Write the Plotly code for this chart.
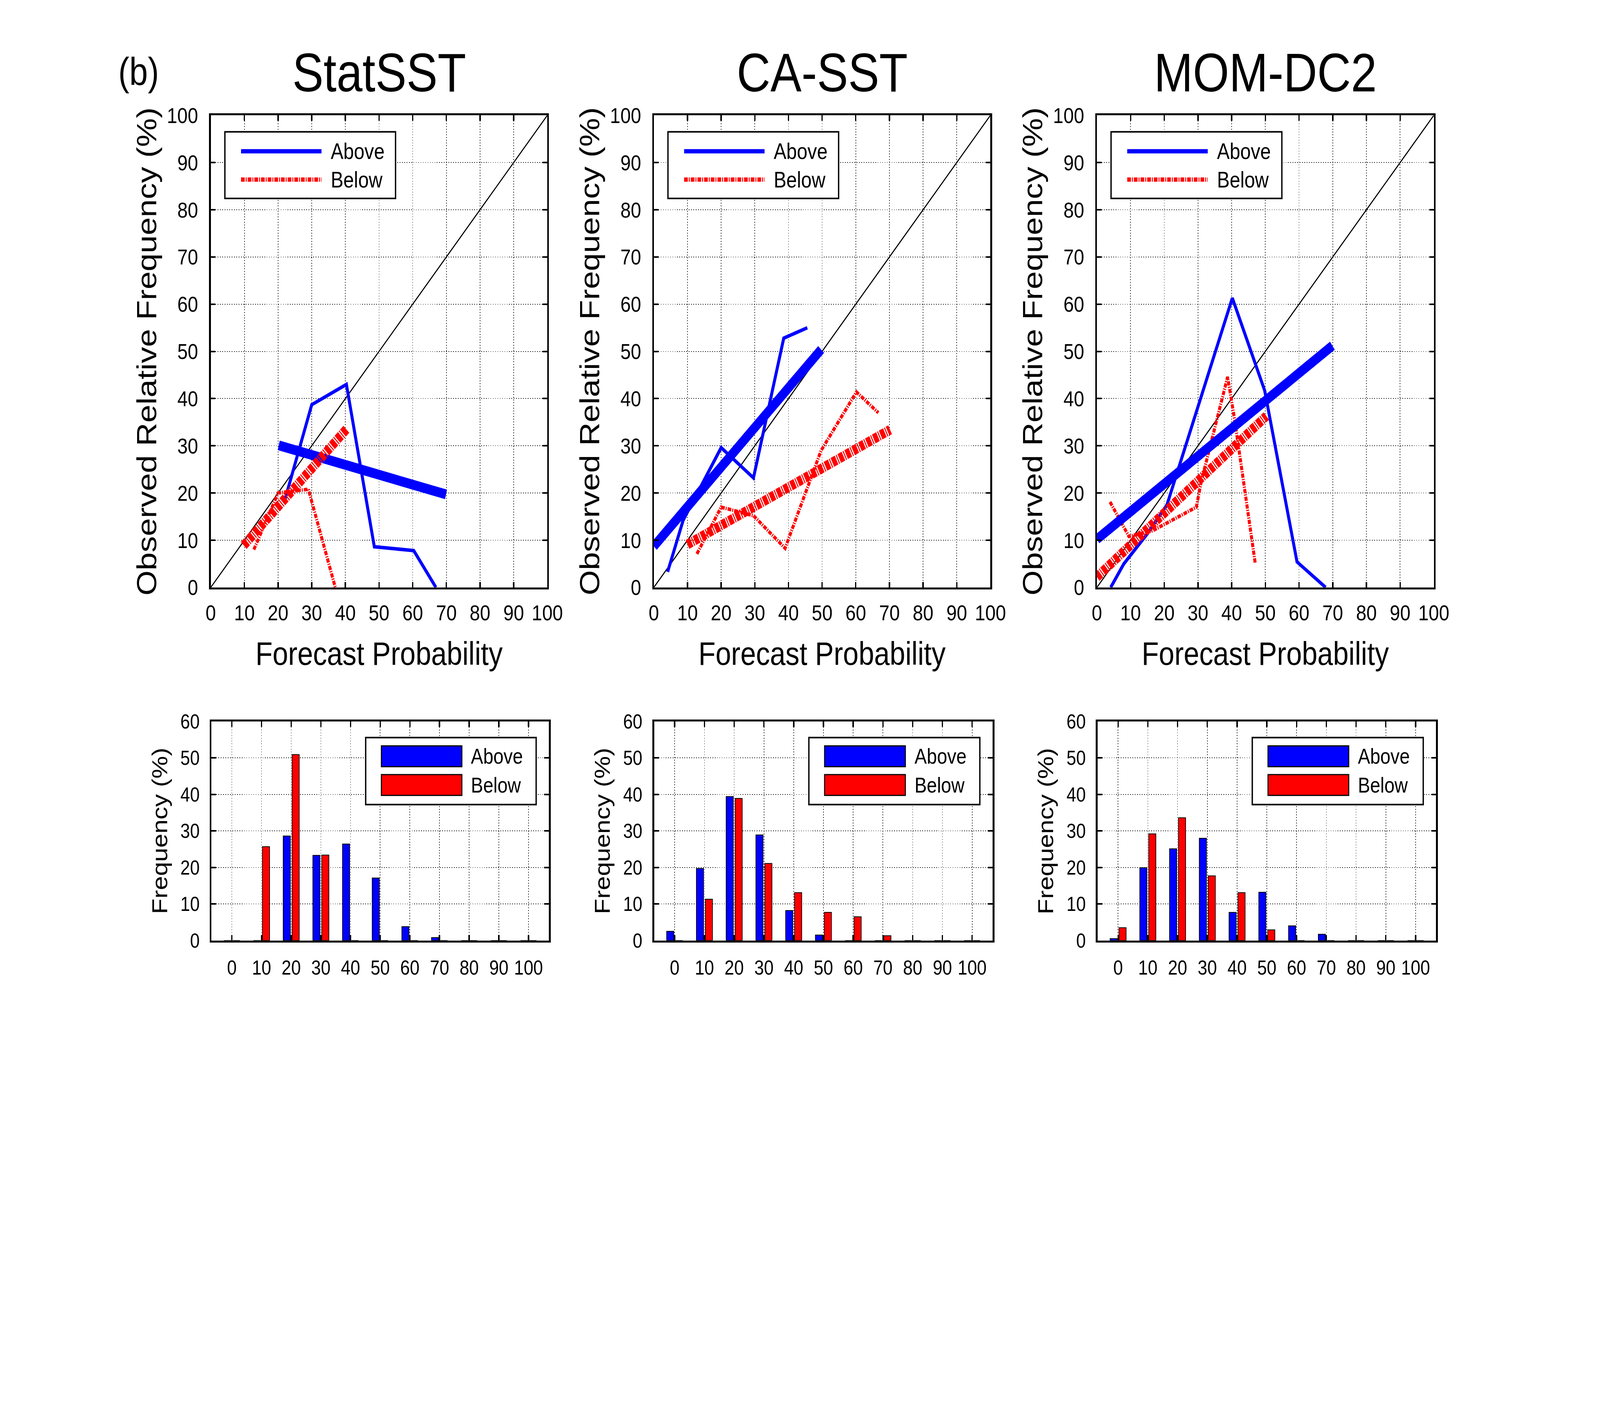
import plotly.graph_objects as go

# Reliability curves: forecast probability (%) vs observed relative frequency (%)
stat_above_x = [22.0, 30.0, 40.3, 48.6, 60.3, 66.9]
stat_above_y = [18.5, 38.7, 43.0, 8.6, 7.8, 0.0]
stat_below_x = [12.8, 20.0, 29.0, 37.0]
stat_below_y = [8.0, 20.0, 20.8, 0.0]
stat_above_fit_x = [20.2, 69.9]
stat_above_fit_y = [30.1, 19.7]
stat_below_fit_x = [9.8, 40.3]
stat_below_fit_y = [8.9, 33.5]

ca_above_x = [4.1, 8.7, 20.0, 29.6, 38.6, 45.6]
ca_above_y = [3.3, 14.2, 29.6, 23.2, 52.8, 55.0]
ca_below_x = [12.8, 20.0, 29.6, 39.0, 49.7, 60.2, 66.7]
ca_below_y = [7.1, 17.0, 15.2, 8.3, 29.0, 41.4, 37.0]
ca_above_fit_x = [0.0, 49.7]
ca_above_fit_y = [8.7, 50.4]
ca_below_fit_x = [10.0, 70.2]
ca_below_fit_y = [9.1, 33.4]

mom_above_x = [4.1, 8.0, 15.0, 20.8, 40.2, 49.8, 59.4, 67.9]
mom_above_y = [0.0, 5.0, 11.4, 17.5, 61.3, 41.7, 5.4, 0.0]
mom_below_x = [3.9, 9.5, 16.5, 29.5, 31.0, 38.8, 41.0, 47.0]
mom_below_y = [18.1, 10.8, 12.0, 17.0, 22.5, 44.6, 35.0, 5.1]
mom_above_fit_x = [0.0, 69.9]
mom_above_fit_y = [10.2, 51.2]
mom_below_fit_x = [0.0, 50.3]
mom_below_fit_y = [2.2, 36.3]

diag = [0, 100]

# Forecast frequency histograms (%)
bins = [0, 10, 20, 30, 40, 50, 60, 70, 80, 90, 100]
stat_hist_above = [0.0, 0.0, 28.6, 23.3, 26.4, 17.1, 3.8, 0.8, 0.0, 0.0, 0.0]
stat_hist_below = [0.0, 25.7, 50.9, 23.4, 0.0, 0.0, 0.0, 0.0, 0.0, 0.0, 0.0]
ca_hist_above = [2.5, 19.7, 39.4, 28.9, 8.2, 1.5, 0.0, 0.0, 0.0, 0.0, 0.0]
ca_hist_below = [0.0, 11.3, 38.9, 21.1, 13.1, 7.7, 6.5, 1.3, 0.0, 0.0, 0.0]
mom_hist_above = [0.5, 19.9, 25.1, 28.0, 7.7, 13.2, 4.0, 1.7, 0.0, 0.0, 0.0]
mom_hist_below = [3.5, 29.2, 33.6, 17.7, 13.1, 2.9, 0.0, 0.0, 0.0, 0.0, 0.0]

titles = ["StatSST", "CA-SST", "MOM-DC2"]

FONT = "Liberation Sans, Arial, sans-serif"
BLUE = "#0000ff"
RED = "#ff0000"
THIN_DASH = "11px,3px,3px,3px"
THICK_DASH = "14px,3px,3px,3px"

W, H = 4804, 3602
top_dom_x = [[625 / W, 1649 / W], [1973 / W, 2997 / W], [3321 / W, 4346 / W]]
top_dom_y = [1 - 1499 / H, 1 - 269 / H]
bot_dom_x = [[627 / W, 1654 / W], [1974 / W, 3004 / W], [3323 / W, 4353 / W]]
bot_dom_y = [1 - 2419 / H, 1 - 1848 / H]

fig = go.Figure()

curves = [
    (stat_above_x, stat_above_y, stat_below_x, stat_below_y,
     stat_above_fit_x, stat_above_fit_y, stat_below_fit_x, stat_below_fit_y),
    (ca_above_x, ca_above_y, ca_below_x, ca_below_y,
     ca_above_fit_x, ca_above_fit_y, ca_below_fit_x, ca_below_fit_y),
    (mom_above_x, mom_above_y, mom_below_x, mom_below_y,
     mom_above_fit_x, mom_above_fit_y, mom_below_fit_x, mom_below_fit_y),
]
hists = [(stat_hist_above, stat_hist_below),
         (ca_hist_above, ca_hist_below),
         (mom_hist_above, mom_hist_below)]

for i, c in enumerate(curves):
    xa, ya = f"x{i + 1}", f"y{i + 1}"
    ax, ay, bx, by, afx, afy, bfx, bfy = c
    fig.add_trace(go.Scatter(x=diag, y=diag, xaxis=xa, yaxis=ya, mode="lines",
                             line=dict(color="black", width=3)))
    fig.add_trace(go.Scatter(x=ax, y=ay, xaxis=xa, yaxis=ya, mode="lines",
                             line=dict(color=BLUE, width=9)))
    fig.add_trace(go.Scatter(x=bx, y=by, xaxis=xa, yaxis=ya, mode="lines",
                             line=dict(color=RED, width=9, dash=THIN_DASH)))
    fig.add_trace(go.Scatter(x=afx, y=afy, xaxis=xa, yaxis=ya, mode="lines",
                             line=dict(color=BLUE, width=25)))
    fig.add_trace(go.Scatter(x=bfx, y=bfy, xaxis=xa, yaxis=ya, mode="lines",
                             line=dict(color=RED, width=25, dash=THICK_DASH)))

for i, (ha, hb) in enumerate(hists):
    xa, ya = f"x{i + 4}", f"y{i + 4}"
    fig.add_trace(go.Bar(x=bins, y=ha, xaxis=xa, yaxis=ya, width=2.4, offset=-2.7,
                         marker=dict(color=BLUE, line=dict(color="black", width=2))))
    fig.add_trace(go.Bar(x=bins, y=hb, xaxis=xa, yaxis=ya, width=2.4, offset=0.3,
                         marker=dict(color=RED, line=dict(color="black", width=2))))

axis_style = dict(showline=True, linecolor="black", linewidth=5, mirror="ticks",
                  ticks="inside", ticklen=14, tickwidth=4, tickcolor="black",
                  showgrid=True, gridcolor="black", gridwidth=2, griddash="2px,5px",
                  zeroline=False, tickfont=dict(family=FONT, size=56, color="black"))

layout = dict(width=W, height=H, margin=dict(l=0, r=0, t=0, b=0),
              paper_bgcolor="white", plot_bgcolor="white", showlegend=False,
              barmode="overlay", font=dict(family=FONT, color="black"))

for i in range(3):
    n = i + 1
    layout[f"xaxis{n}"] = dict(axis_style, domain=top_dom_x[i], anchor=f"y{n}",
                               range=[0, 100], dtick=10, tick0=0, ticklabelstandoff=12)
    layout[f"yaxis{n}"] = dict(axis_style, domain=top_dom_y, anchor=f"x{n}",
                               range=[0, 100], dtick=10, tick0=0, ticklabelstandoff=22)
    m = i + 4
    hist_style = dict(axis_style, tickfont=dict(family=FONT, size=52, color="black"))
    layout[f"xaxis{m}"] = dict(hist_style, domain=bot_dom_x[i], anchor=f"y{m}",
                               range=[-6.9, 106.9], tickvals=bins, ticklabelstandoff=20)
    layout[f"yaxis{m}"] = dict(hist_style, domain=bot_dom_y, anchor=f"x{m}",
                               range=[0, 60], dtick=10, tick0=0, ticklabelstandoff=20)

fig.update_layout(**layout)

annotations = [dict(text="(b)", x=405 / W, y=1 - 155 / H, xref="paper", yref="paper",
                    showarrow=False, xanchor="center", yanchor="middle",
                    font=dict(family=FONT, size=100, color="black"))]
shapes = []

for i in range(3):
    tx0, tx1 = top_dom_x[i]
    bx0, bx1 = bot_dom_x[i]
    annotations.append(dict(text=titles[i], x=(tx0 + tx1) / 2, y=1 - 157 / H,
                            xref="paper", yref="paper", showarrow=False,
                            xanchor="center", yanchor="middle",
                            font=dict(family=FONT, size=140, color="black")))
    annotations.append(dict(text="Forecast Probability", x=(tx0 + tx1) / 2, y=1 - 1671 / H,
                            xref="paper", yref="paper", showarrow=False,
                            xanchor="center", yanchor="middle",
                            font=dict(family=FONT, size=84, color="black")))
    annotations.append(dict(text="Observed Relative Frequency (%)", x=tx0 - 195 / W,
                            y=sum(top_dom_y) / 2, xref="paper", yref="paper",
                            showarrow=False, textangle=-90, xanchor="center",
                            yanchor="middle", font=dict(family=FONT, size=83, color="black")))
    annotations.append(dict(text="Frequency (%)", x=bx0 - 158 / W,
                            y=sum(bot_dom_y) / 2, xref="paper", yref="paper",
                            showarrow=False, textangle=-90, xanchor="center",
                            yanchor="middle", font=dict(family=FONT, size=65, color="black")))

    # line legend on the reliability panels
    xr = "x domain" if i == 0 else f"x{i + 1} domain"
    yr = "y domain" if i == 0 else f"y{i + 1} domain"
    shapes.append(dict(type="rect", xref=xr, yref=yr, x0=0.042, x1=0.549, y0=0.824, y1=0.965,
                       fillcolor="white", line=dict(color="black", width=4)))
    shapes.append(dict(type="line", xref=xr, yref=yr, x0=0.090, x1=0.329, y0=0.924, y1=0.924,
                       line=dict(color=BLUE, width=11)))
    shapes.append(dict(type="line", xref=xr, yref=yr, x0=0.090, x1=0.329, y0=0.864, y1=0.864,
                       line=dict(color=RED, width=11, dash=THIN_DASH)))
    for label, yy in (("Above", 0.924), ("Below", 0.864)):
        annotations.append(dict(text=label, x=0.354, y=yy, xref=xr, yref=yr, showarrow=False,
                                xanchor="left", yanchor="middle",
                                font=dict(family=FONT, size=57, color="black")))

    # patch legend on the histograms
    xr = f"x{i + 4} domain"
    yr = f"y{i + 4} domain"
    shapes.append(dict(type="rect", xref=xr, yref=yr, x0=0.457, x1=0.962, y0=0.620, y1=0.926,
                       fillcolor="white", line=dict(color="black", width=4)))
    shapes.append(dict(type="rect", xref=xr, yref=yr, x0=0.5034, x1=0.742, y0=0.793, y1=0.888,
                       fillcolor=BLUE, line=dict(color="black", width=3)))
    shapes.append(dict(type="rect", xref=xr, yref=yr, x0=0.5034, x1=0.742, y0=0.662, y1=0.757,
                       fillcolor=RED, line=dict(color="black", width=3)))
    for label, yy in (("Above", 0.841), ("Below", 0.709)):
        annotations.append(dict(text=label, x=0.767, y=yy, xref=xr, yref=yr, showarrow=False,
                                xanchor="left", yanchor="middle",
                                font=dict(family=FONT, size=55, color="black")))

fig.update_layout(annotations=annotations, shapes=shapes)

# The browser caps the window width (4096 css px here), so stretch the
# fixed 4804x3602 figure over whatever viewport it actually gets.
fit_js = """
document.documentElement.style.overflow = 'hidden';
document.body.style.overflow = 'hidden';
document.body.style.margin = '0';
var gd = document.getElementById('{plot_id}');
var sx = window.innerWidth / %d, sy = window.innerHeight / %d;
gd.style.position = 'fixed';
gd.style.left = '0px';
gd.style.top = '0px';
gd.style.transformOrigin = '0 0';
gd.style.transform = 'scale(' + sx + ',' + sy + ')';
""" % (W, H)

fig.write_html("out.html", post_script=fit_js, config={"displayModeBar": False})
